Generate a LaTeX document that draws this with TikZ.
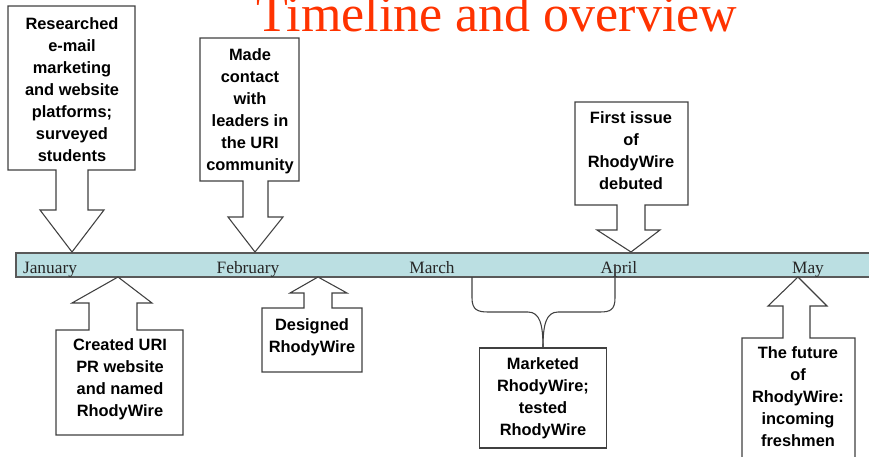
\documentclass[tikz,border=0pt]{standalone}
\usepackage{fontspec}
\setmainfont{Liberation Serif}
\setsansfont{Liberation Sans}
\definecolor{titlered}{HTML}{FF3300}
\definecolor{barblue}{HTML}{BBDFE2}
\tikzset{
    callout/.style={draw=black!75, line width=0.8pt, fill=white},
    note/.style={align=center, inner sep=0pt, font=\sffamily\bfseries\fontsize{12.3}{16.5}\selectfont},
    month/.style={anchor=base, text=black!85, font=\fontsize{13}{15}\selectfont},
}

\begin{document}
\begin{tikzpicture}[x=0.75pt, y=-0.75pt]
    \useasboundingbox (0,0) rectangle (869,457);
    \clip (0,0) rectangle (869,457);

    \node[anchor=base, text=titlered, font=\fontsize{39}{44}\selectfont] (title) at (497,31) {Timeline and overview};

    \draw[draw=black!65, fill=barblue, line width=0.8pt] (16,253) rectangle (880,277);
    \node[month] (jan) at (50,273) {January};
    \node[month] (feb) at (248,273) {February};
    \node[month] (mar) at (432,273) {March};
    \node[month] (apr) at (619,273) {April};
    \node[month] (may) at (808,273) {May};

    \coordinate (tipjan) at (72,252);
    \coordinate (tipfeb) at (255,252);
    \coordinate (tipapr) at (631,252);
    \coordinate (tipsite) at (118,277);
    \coordinate (tipdesign) at (318,277);
    \coordinate (tipmay) at (798,277);

    \draw[callout] (8,6) -- (135,6) -- (135,170) -- (88,170) -- (88,210) -- (104,210) -- (tipjan) -- (40,210) -- (56,210) -- (56,170) -- (8,170) -- cycle;
    \draw[callout] (200,38) -- (299,38) -- (299,181) -- (268,181) -- (268,217) -- (283,217) -- (tipfeb) -- (228,217) -- (243,217) -- (243,181) -- (200,181) -- cycle;
    \draw[callout] (575,102) -- (688,102) -- (688,205) -- (645,205) -- (645,230) -- (660,230) -- (tipapr) -- (597,230) -- (617,230) -- (617,205) -- (575,205) -- cycle;
    \draw[callout] (56,435) -- (56,330) -- (89,330) -- (89,303) -- (72,303) -- (tipsite) -- (152,303) -- (137,303) -- (137,330) -- (183,330) -- (183,435) -- cycle;
    \draw[callout] (262,372) -- (262,308) -- (304,308) -- (304,293) -- (290,293) -- (tipdesign) -- (347,293) -- (332,293) -- (332,308) -- (362,308) -- (362,372) -- cycle;
    \draw[callout] (742,470) -- (742,338) -- (783,338) -- (783,306) -- (768,306) -- (tipmay) -- (827,306) -- (810,306) -- (810,338) -- (855,338) -- (855,470) -- cycle;

    \node[note] (research) at (72,90) {Researched\\e-mail\\marketing\\and website\\platforms;\\surveyed\\students};
    \node[note] (contact) at (250,111) {Made\\contact\\with\\leaders in\\the URI\\community};
    \node[note] (issue) at (631,151) {First issue\\of\\RhodyWire\\debuted};
    \node[note] (site) at (120,379) {Created URI\\PR website\\and named\\RhodyWire};
    \node[note] (design) at (312,337) {Designed\\RhodyWire};
    \node[note] (future) at (798,397) {The future\\of\\RhodyWire:\\incoming\\freshmen};

    \node[note, draw=black!75, line width=0.8pt, minimum width=95pt, minimum height=75pt] (market) at (543,398) {Marketed\\RhodyWire;\\tested\\RhodyWire};

    \draw[draw=black!75, line width=0.8pt] (market.north) .. controls (543,325) and (540,312) .. (528,312) -- (488,312) .. controls (478,312) and (472,310) .. (472,298) -- (472,277);
    \draw[draw=black!75, line width=0.8pt] (market.north) .. controls (543,325) and (546,312) .. (558,312) -- (600,312) .. controls (610,312) and (615,310) .. (615,298) -- (615,264);
\end{tikzpicture}
\end{document}
